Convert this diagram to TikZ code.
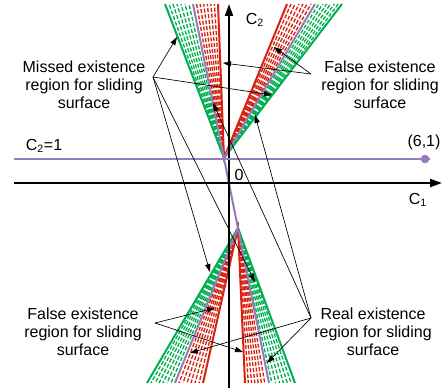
\documentclass[tikz,border=0pt]{standalone}
\usepackage{fontspec}
\setmainfont{Liberation Sans}
\usetikzlibrary{arrows.meta,calc}
\definecolor{fangreen}{RGB}{0,176,80}
\definecolor{fanred}{RGB}{214,34,14}
\definecolor{fanpurple}{RGB}{150,124,186}

\begin{document}
\begin{tikzpicture}[x=0.75pt,y=-0.75pt,
    every node/.style={font=\fontsize{12}{13.4}\selectfont},
    lbl/.style={align=center},
    axis/.style={line width=1.6pt,-{Triangle[length=9pt,width=6pt]}},
    bound/.style={line width=1.5pt},
    hatch/.style={line width=1pt,dash pattern=on 3pt off 1.4pt},
    pointer/.style={line width=0.5pt,-{Triangle[length=6pt,width=4pt]}}]
    \useasboundingbox (0,0) rectangle (442,392);
    % apexes of the two fans
    \coordinate (A) at (224,158);
    \coordinate (B) at (238,228);
    % hatched regions
    \foreach \p/\q/\c in {165/193/fangreen,193/218/fanred,287/315/fanred,315/342/fangreen}
      \foreach \k in {1,...,6}
        \draw[hatch,\c] (A) -- ($(\p,4)!\k/7!(\q,4)$);
    \foreach \p/\q/\c in {147/175/fangreen,175/203/fanred,245/268/fanred,268/295/fangreen}
      \foreach \k in {1,...,6}
        \draw[hatch,\c] (B) -- ($(\p,383)!\k/7!(\q,383)$);
    % boundary lines
    \draw[bound,fangreen] (165,4) -- (A) -- (342,4);
    \draw[bound,fanred] (218,4) -- (A) -- (287,4);
    \draw[bound,fanpurple] (315,4) -- (A);
    \draw[bound,fangreen] (147,383) -- (B) -- (295,383);
    \draw[bound,fanred] (203,383) -- (B) -- (245,383);
    \draw[bound,fanpurple] (175,383) -- (B);
    \draw[bound,fanpurple] (193,4) -- (269,383);
    % axes
    \draw[axis] (229,388) -- (229,4);
    \draw[axis] (14,183) -- (442,183);
    \node (c2) at (255,20) {C\textsubscript{2}};
    \node (c1) at (418,200) {C\textsubscript{1}};
    \node (zero) at (239,175) {0};
    % the line C2=1
    \draw[bound,fanpurple] (14,159) -- (430,159);
    \filldraw[fanpurple] (425,159) circle (4);
    \node (lineeq) at (44,146) {C\textsubscript{2}=1};
    \node (pt) at (424,142) {(6,1)};
    % labels
    \node[lbl] (missed) at (84,85) {Missed existence\\region for sliding\\surface};
    \node[lbl] (falsetop) at (380,85) {False existence\\region for sliding\\surface};
    \node[lbl] (falsebot) at (83,332) {False existence\\region for sliding\\surface};
    \node[lbl] (real) at (373,332) {Real existence\\region for sliding\\surface};
    % pointers
    \coordinate (hm) at (153,77);
    \coordinate (hft) at (311,74);
    \coordinate (hfb) at (155,323);
    \coordinate (hr) at (311,318);
    \foreach \t in {(177,37),(272,95),(210,272),(255,282)}
      \draw[pointer] (hm) -- \t;
    \foreach \t in {(223,63),(274,47)}
      \draw[pointer] (hft) -- \t;
    \foreach \t in {(215,308),(243,352)}
      \draw[pointer] (hfb) -- \t;
    \foreach \t in {(213,103),(255,115),(190,353),(267,363)}
      \draw[pointer] (hr) -- \t;
\end{tikzpicture}
\end{document}
